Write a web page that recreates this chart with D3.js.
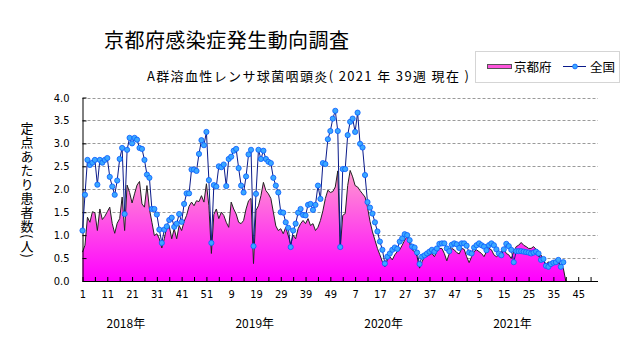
<!DOCTYPE html>
<html><head><meta charset="utf-8">
<script src="https://cdn.jsdelivr.net/npm/d3@7"></script>
<style>
html,body{margin:0;padding:0;background:#fff;}
svg{display:block;}
text{font-family:"Noto Sans CJK JP","Noto Sans",sans-serif;fill:#000;}
</style></head>
<body>
<svg id="chart" width="631" height="347"></svg>
<script>
// ---- data ----
const title = "京都府感染症発生動向調査";
const subtitle = "A群溶血性レンサ球菌咽頭炎( 2021 年 39週 現在 )";
const yAxisTitle = "定点あたり患者数(人)";
const seriesNames = ["京都府", "全国"];
const years = [2018, 2019, 2020, 2021];
const weeksPerYear = [52, 52, 52, 52];
const yTicks = [0, 0.5, 1, 1.5, 2, 2.5, 3, 3.5, 4];

// 全国 (national) per week, 2018w1 .. 2021w39
const national = [
  // 2018
  1.10,1.88,2.64,2.53,2.58,2.64,2.10,2.64,2.58,2.64,
  2.68,2.27,2.06,1.88,2.19,2.66,2.90,1.46,2.86,3.12,
  3.00,3.12,3.08,2.90,2.88,2.64,2.32,2.25,1.57,1.57,
  1.45,1.12,0.83,1.12,1.19,1.33,1.38,1.18,1.25,1.46,
  1.29,1.68,1.91,1.91,2.43,2.43,2.40,2.77,3.07,2.96,
  3.25,2.20,
  // 2019
  0.83,2.09,2.06,2.50,2.48,2.54,2.07,2.66,2.71,2.84,
  2.88,2.46,2.08,1.93,2.28,2.76,2.86,0.76,1.90,2.86,
  2.66,2.84,2.66,2.60,2.57,2.25,2.08,1.93,1.50,1.49,
  1.28,1.16,0.74,1.10,1.25,1.49,1.57,1.44,1.43,1.66,
  1.68,1.55,1.66,2.08,1.79,2.57,2.55,3.09,3.27,3.54,
  3.71,3.27,
  // 2020
  0.74,2.44,2.44,3.18,3.47,3.54,3.25,3.67,2.99,2.91,
  2.31,1.72,1.60,1.47,1.28,1.08,0.86,0.68,0.38,0.53,
  0.60,0.68,0.73,0.70,0.86,0.93,1.02,1.00,0.89,0.75,
  0.73,0.62,0.37,0.53,0.56,0.60,0.64,0.68,0.64,0.71,
  0.81,0.82,0.82,0.71,0.65,0.79,0.82,0.80,0.72,0.82,
  0.82,0.77,
  // 2021
  0.62,0.60,0.73,0.78,0.82,0.78,0.75,0.67,0.78,0.82,
  0.78,0.69,0.60,0.56,0.69,0.81,0.76,0.68,0.41,0.65,
  0.65,0.65,0.64,0.63,0.62,0.60,0.62,0.64,0.60,0.46,
  0.48,0.33,0.31,0.37,0.40,0.41,0.46,0.31,0.41
];

// 京都府 (Kyoto) per week, 2018w1 .. 2021w40
const kyoto = [
  // 2018
  0.63,0.78,1.39,1.28,1.51,1.49,1.10,1.57,1.34,1.41,
  1.51,1.61,1.25,1.04,1.26,1.36,1.83,1.10,2.09,1.93,
  1.70,1.90,2.09,2.17,1.68,1.61,2.08,1.57,1.28,0.99,
  1.03,0.92,0.72,0.92,1.19,1.20,0.92,1.14,0.92,1.21,
  1.10,1.30,1.43,1.63,1.72,1.64,1.75,1.73,1.86,1.72,
  2.12,1.64,
  // 2019
  0.60,1.45,1.57,1.36,1.50,1.43,1.28,1.17,1.72,1.57,
  1.46,1.28,1.25,1.32,1.57,1.75,1.80,0.38,1.54,1.64,
  1.86,2.15,1.97,1.90,1.80,1.50,1.20,1.10,1.14,1.03,
  1.17,0.99,0.80,1.00,0.92,1.14,1.25,1.32,1.25,1.36,
  1.21,1.25,1.10,1.17,1.32,1.53,1.80,1.98,1.93,1.95,
  2.05,2.40,
  // 2020
  0.70,1.43,1.47,2.08,2.41,2.27,2.08,2.05,1.97,1.90,
  1.83,1.61,1.30,1.07,0.89,0.71,0.57,0.42,0.31,0.46,
  0.53,0.46,0.57,0.64,0.68,0.78,0.89,0.97,0.82,0.68,
  0.64,0.53,0.28,0.42,0.53,0.54,0.57,0.60,0.53,0.64,
  0.71,0.71,0.60,0.44,0.60,0.71,0.68,0.62,0.59,0.71,
  0.69,0.53,
  // 2021
  0.40,0.53,0.64,0.68,0.64,0.60,0.53,0.64,0.71,0.68,
  0.57,0.53,0.57,0.64,0.71,0.60,0.57,0.49,0.64,0.75,
  0.78,0.84,0.78,0.75,0.71,0.71,0.75,0.69,0.53,0.57,
  0.46,0.35,0.42,0.31,0.42,0.46,0.38,0.35,0.28,0
];

// ---- build categories ----
const cats = [];
years.forEach((y, yi) => {
  for (let w = 1; w <= weeksPerYear[yi]; w++) cats.push({year: y, week: w, idx: cats.length + 1});
});
const yearStart = years.map(y => cats.find(c => c.year === y).idx);

// ---- layout ----
const svg = d3.select("#chart");
const x = d3.scaleLinear().domain([1, cats.length + 1]).range([82.5, 598]);
const y = d3.scaleLinear().domain([0, 4]).range([281, 97.5]);

// gradient
const defs = svg.append("defs");
const grad = defs.append("linearGradient").attr("id", "pinkGrad")
  .attr("gradientUnits", "userSpaceOnUse")
  .attr("x1", 0).attr("x2", 0).attr("y1", y(0)).attr("y2", y(2.6));
grad.append("stop").attr("offset", "0%").attr("stop-color", "#ff00ff");
grad.append("stop").attr("offset", "100%").attr("stop-color", "#ffa6cc");

// gridlines
svg.append("g").selectAll("line").data(yTicks.filter(d => d > 0)).join("line")
  .attr("x1", x(1)).attr("x2", 598)
  .attr("y1", d => Math.round(y(d)) + 0.5).attr("y2", d => Math.round(y(d)) + 0.5)
  .attr("stroke", "#9a9a9a").attr("stroke-width", 1).attr("stroke-dasharray", "3,2");

// Kyoto area
const kData = kyoto.map((v, i) => ({i: i + 1, v}));
svg.append("path").datum(kData)
  .attr("d", d3.area().x(d => x(d.i)).y0(y(0)).y1(d => y(d.v)))
  .attr("fill", "url(#pinkGrad)");
svg.append("path").datum(kData)
  .attr("d", d3.line().x(d => x(d.i)).y(d => y(d.v)))
  .attr("fill", "none").attr("stroke", "#222").attr("stroke-width", 1);

// axes
const yAxis = d3.axisLeft(y).tickValues(yTicks).tickFormat(d3.format(".1f"))
  .tickSizeInner(-4).tickSizeOuter(0).tickPadding(13);
const gy = svg.append("g").attr("transform", `translate(${x(1)},0)`).call(yAxis);
gy.selectAll("text").style("font-family", "'Liberation Sans Narrow','DejaVu Sans Condensed',sans-serif").style("font-size", "11px");

const tickIdx = d3.range(1, cats.length + 1, 5);
const xAxis = d3.axisBottom(x).tickValues(tickIdx)
  .tickFormat(i => ((i - 1) % 10 === 0 ? String(cats[i - 1].week) : ""))
  .tickSizeInner(-4).tickSizeOuter(0).tickPadding(9);
const gx = svg.append("g").attr("transform", `translate(0,${y(0)})`).call(xAxis);
gx.select(".domain").attr("d", `M${x(1)},0.5H598`);
gx.selectAll("text").style("font-family", "'Liberation Sans Narrow','DejaVu Sans Condensed',sans-serif").style("font-size", "11px");
svg.selectAll(".domain, .tick line").attr("stroke", "#000");

// national line + markers
const nData = national.map((v, i) => ({i: i + 1, v}));
svg.append("path").datum(nData)
  .attr("d", d3.line().x(d => x(d.i)).y(d => y(d.v)))
  .attr("fill", "none").attr("stroke", "#0a1a8a").attr("stroke-width", 1);
svg.append("g").selectAll("circle").data(nData).join("circle")
  .attr("cx", d => x(d.i)).attr("cy", d => y(d.v)).attr("r", 2.6)
  .attr("fill", "#3aa8ff").attr("stroke", "#0a5cff").attr("stroke-width", 0.8);

// year labels
svg.append("g").selectAll("text").data(years).join("text")
  .attr("x", (d, k) => x(yearStart[k] + 17.5)).attr("y", 328)
  .attr("text-anchor", "middle").style("font-size", "12px")
  .text(d => d + "年");

// titles
svg.append("text").attr("x", 104).attr("y", 48).style("font-size", "20px")
  .attr("textLength", 245).text(title);
svg.append("text").attr("x", 147).attr("y", 81).style("font-size", "13px")
  .attr("textLength", 322).text(subtitle);

// y axis title (vertical writing mode, single text element)
svg.append("text").attr("x", 27).attr("y", 122)
  .style("writing-mode", "vertical-rl").style("font-size", "13px")
  .style("letter-spacing", "1px")
  .text(yAxisTitle);

// legend
const lg = svg.append("g");
lg.append("rect").attr("x", 475.5).attr("y", 51.5).attr("width", 144).attr("height", 31)
  .attr("fill", "#fff").attr("stroke", "#aaa").attr("stroke-dasharray", "1,1");
lg.append("rect").attr("x", 487.5).attr("y", 64.5).attr("width", 24).attr("height", 4)
  .attr("fill", "#ff55dd").attr("stroke", "#555");
lg.append("text").attr("x", 514).attr("y", 71.5).style("font-size", "12.5px").text(seriesNames[0]);
lg.append("line").attr("x1", 563).attr("x2", 586).attr("y1", 66.5).attr("y2", 66.5)
  .attr("stroke", "#0a1a8a");
lg.append("circle").attr("cx", 575).attr("cy", 66.5).attr("r", 2.4)
  .attr("fill", "#3aa8ff").attr("stroke", "#0a5cff").attr("stroke-width", 0.8);
lg.append("text").attr("x", 590).attr("y", 71.5).style("font-size", "12.5px").text(seriesNames[1]);
</script>
</body></html>
